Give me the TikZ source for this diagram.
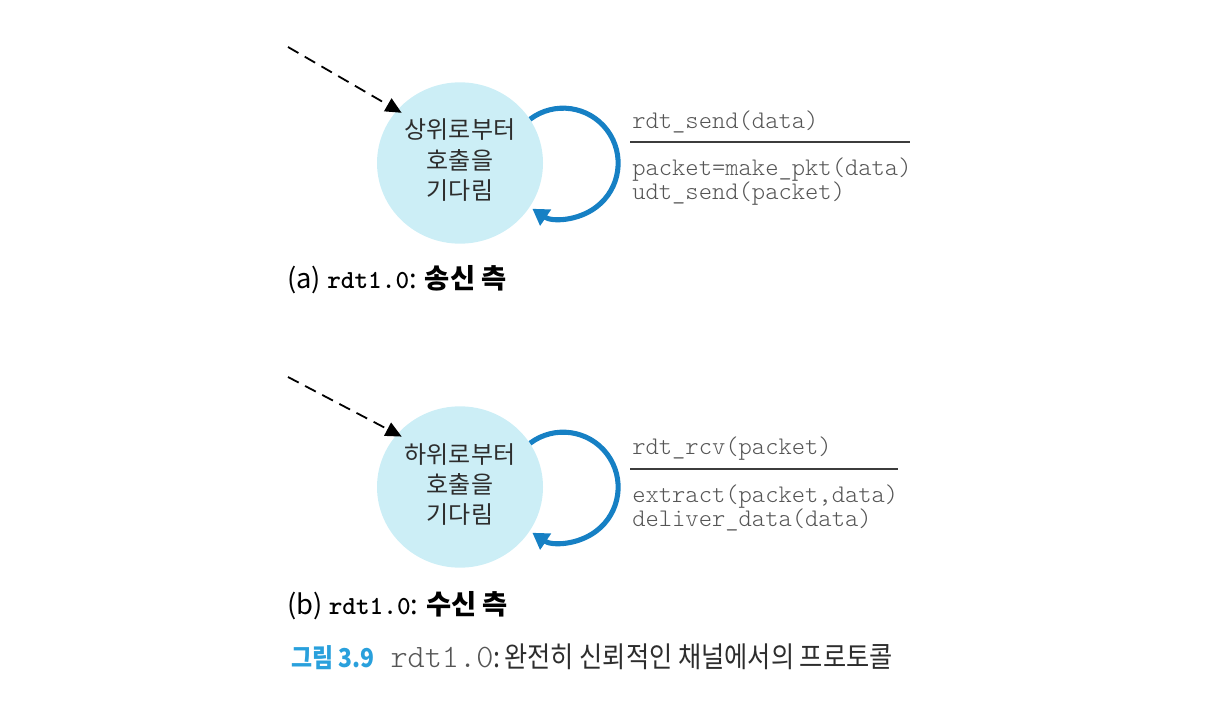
\documentclass[tikz,border=0pt]{standalone}
\usepackage{fontspec}
\newfontfamily\krfont{Noto Sans CJK KR}
\newfontfamily\krcond{Noto Sans CJK KR}[FakeStretch=0.88]
\usetikzlibrary{arrows.meta,shapes.geometric}
\definecolor{statefill}{RGB}{204,238,246}
\definecolor{loopblue}{RGB}{22,128,196}
\definecolor{capblue}{RGB}{41,160,220}
\definecolor{monogray}{RGB}{85,85,85}
\definecolor{sepgray}{RGB}{60,60,60}
\definecolor{txtdark}{RGB}{45,45,45}
\newcommand\monolight{\fontseries{l}\ttfamily}
\newcommand\statetext[1]{\raisebox{-4.5pt}{\begin{tabular}{@{}c@{}}#1\end{tabular}}}
\begin{document}
\begin{tikzpicture}[x=0.75pt,y=0.75pt,
  statenode/.style={ellipse, fill=statefill, draw=none, minimum width=124.5pt, minimum height=121pt,
    inner sep=0pt, align=center, text=txtdark,
    font=\krfont\fontsize{18pt}{22.5pt}\selectfont},
  looparrow/.style={draw=loopblue, line width=3.8pt, -{Triangle[length=12pt,width=14pt]}},
  entryarrow/.style={draw=black, line width=1.35pt, dash pattern=on 9pt off 5.5pt,
    -{Triangle[length=12pt,width=11pt]}, shorten >=-4pt},
  monolbl/.style={anchor=west, inner sep=0pt, text=monogray, align=left,
    font=\monolight\fontsize{19pt}{18pt}\selectfont},
  seprule/.style={draw=sepgray, line width=1.5pt},
  subcap/.style={anchor=west, inner sep=0pt, text=black,
    font=\krfont\fontsize{20.5pt}{20.5pt}\selectfont}
]
\useasboundingbox (0,0) rectangle (1205,708);

% ---------- (a) sender ----------
\node[statenode] (a) at (460,545) {\statetext{상위로부터\\호출을\\기다림}};
\coordinate (sa) at (288,661);
\draw[entryarrow] (sa) -- (a.140);
\draw[looparrow] (a.32) arc[start angle=127, end angle=-124, radius=41.25pt];
\node[monolbl] (evta) at (632,586) {rdt\_send(data)};
\coordinate (sepaL) at (630,566);
\coordinate (sepaR) at (910,566);
\draw[seprule] (sepaL) -- (sepaR);
\node[monolbl] (acta) at (632,526) {packet=make\_pkt(data)\\udt\_send(packet)};
\node[subcap] (capa) at (287,428) {(a) {\bfseries\ttfamily\fontsize{19.5pt}{19.5pt}\selectfont rdt1.0}: {\bfseries 송신 측}};

% ---------- (b) receiver ----------
\node[statenode] (b) at (460,221) {\statetext{하위로부터\\호출을\\기다림}};
\coordinate (sb) at (288,331);
\draw[entryarrow] (sb) -- (b.140);
\draw[looparrow] (b.32) arc[start angle=127, end angle=-124, radius=41.25pt];
\node[monolbl] (evtb) at (632,259) {rdt\_rcv(packet)};
\coordinate (sepbL) at (630,239.5);
\coordinate (sepbR) at (898,239.5);
\draw[seprule] (sepbL) -- (sepbR);
\node[monolbl] (actb) at (632,200) {extract(packet,data)\\deliver\_data(data)};
\node[subcap] (capb) at (287,102) {(b) {\bfseries\ttfamily\fontsize{19.5pt}{19.5pt}\selectfont rdt1.0}: {\bfseries 수신 측}};

% ---------- figure caption ----------
\node[anchor=west, inner sep=0pt] (fig) at (291,51)
  {{\krcond\fontsize{19.5pt}{19.5pt}\selectfont\bfseries\color{capblue}그림 3.9}\hspace{12pt}%
   {\monolight\fontsize{24.5pt}{24.5pt}\selectfont\color{monogray}rdt1.0}%
   {\krcond\fontsize{21.5pt}{21.5pt}\selectfont\color{txtdark}:\hspace{3pt}완전히 신뢰적인 채널에서의 프로토콜}};
\end{tikzpicture}
\end{document}
